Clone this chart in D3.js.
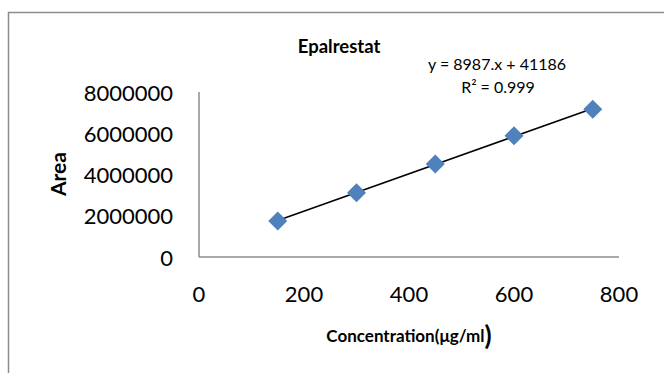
<!DOCTYPE html>
<html>
<head>
<meta charset="utf-8">
<script src="https://cdn.jsdelivr.net/npm/d3@7"></script>
<style>
  body { margin: 0; background: #fff; }
  svg text { font-family: Lato, "Open Sans", sans-serif; fill: #000; }
</style>
</head>
<body>
<svg id="chart" width="664" height="373"></svg>
<script>
const concentration = [150, 300, 450, 600, 750];
const area = [1745000, 3118000, 4509000, 5880000, 7160000];
const xTicks = [0, 200, 400, 600, 800];
const yTicks = [0, 2000000, 4000000, 6000000, 8000000];
const equationLabel = "y = 8987.x + 41186";
const r2Label = "R² = 0.999";

const svg = d3.select("#chart");

// outer chart frame (runs off the picture on right and bottom)
svg.append("rect")
    .attr("x", 8.5).attr("y", 12.5)
    .attr("width", 700).attr("height", 400)
    .attr("fill", "none")
    .attr("stroke", "#8c8c8c")
    .attr("stroke-width", 1.5);

const x = d3.scaleLinear().domain([0, 800]).range([199, 619]);
const y = d3.scaleLinear().domain([0, 8000000]).range([257, 92]);

// axes lines
svg.append("line")
    .attr("x1", x(0)).attr("x2", x(0))
    .attr("y1", y(8000000)).attr("y2", y(0))
    .attr("stroke", "#8c8c8c").attr("stroke-width", 1.5);
svg.append("line")
    .attr("x1", x(0)).attr("x2", x(800))
    .attr("y1", y(0)).attr("y2", y(0))
    .attr("stroke", "#8c8c8c").attr("stroke-width", 1.5);

// tick labels
svg.selectAll(".ytick")
    .data(yTicks)
    .enter()
    .append("text")
    .attr("class", "ytick")
    .attr("x", 173)
    .attr("y", d => y(d))
    .attr("text-anchor", "end")
    .attr("dominant-baseline", "central")
    .style("font-size", "22px")
    .text(d => d3.format("d")(d));

svg.selectAll(".xtick")
    .data(xTicks)
    .enter()
    .append("text")
    .attr("class", "xtick")
    .attr("x", d => x(d))
    .attr("y", 293)
    .attr("text-anchor", "middle")
    .attr("dominant-baseline", "central")
    .style("font-size", "22px")
    .text(d => d);

// least squares trend line
const mx = d3.mean(concentration), my = d3.mean(area);
const slope = d3.sum(concentration, (c, i) => (c - mx) * (area[i] - my)) /
              d3.sum(concentration, c => (c - mx) * (c - mx));
const icpt = my - slope * mx;
const xs = d3.extent(concentration);

svg.append("line")
    .attr("x1", x(xs[0])).attr("y1", y(slope * xs[0] + icpt))
    .attr("x2", x(xs[1])).attr("y2", y(slope * xs[1] + icpt))
    .attr("stroke", "#000").attr("stroke-width", 1.6);

// points (rotated squares)
svg.selectAll(".pt")
    .data(concentration)
    .enter()
    .append("path")
    .attr("class", "pt")
    .attr("d", d3.symbol().type(d3.symbolSquare).size(180))
    .attr("transform", (d, i) => `translate(${x(d)},${y(area[i])}) rotate(45)`)
    .attr("fill", "#4f81bd");

// titles
svg.append("text")
    .attr("x", 339).attr("y", 46)
    .attr("text-anchor", "middle")
    .attr("dominant-baseline", "central")
    .style("font-size", "18.5px").style("font-weight", "bold")
    .text("Epalrestat");

svg.append("text")
    .attr("transform", "translate(57,174) rotate(-90)")
    .attr("text-anchor", "middle")
    .attr("dominant-baseline", "central")
    .style("font-size", "21px").style("font-weight", "bold")
    .text("Area");

const xt = svg.append("text")
    .attr("x", 409).attr("y", 335)
    .attr("text-anchor", "middle")
    .attr("dominant-baseline", "central")
    .style("font-size", "17px").style("font-weight", "bold");
xt.append("tspan").text("Concentration(μg/ml");
xt.append("tspan").style("font-size", "26px").text(")");

// trendline equation
svg.append("text")
    .attr("x", 497).attr("y", 63)
    .attr("text-anchor", "middle")
    .attr("dominant-baseline", "central")
    .style("font-size", "16px")
    .text(equationLabel);
svg.append("text")
    .attr("x", 498).attr("y", 86)
    .attr("text-anchor", "middle")
    .attr("dominant-baseline", "central")
    .style("font-size", "16px")
    .text(r2Label);
</script>
</body>
</html>
